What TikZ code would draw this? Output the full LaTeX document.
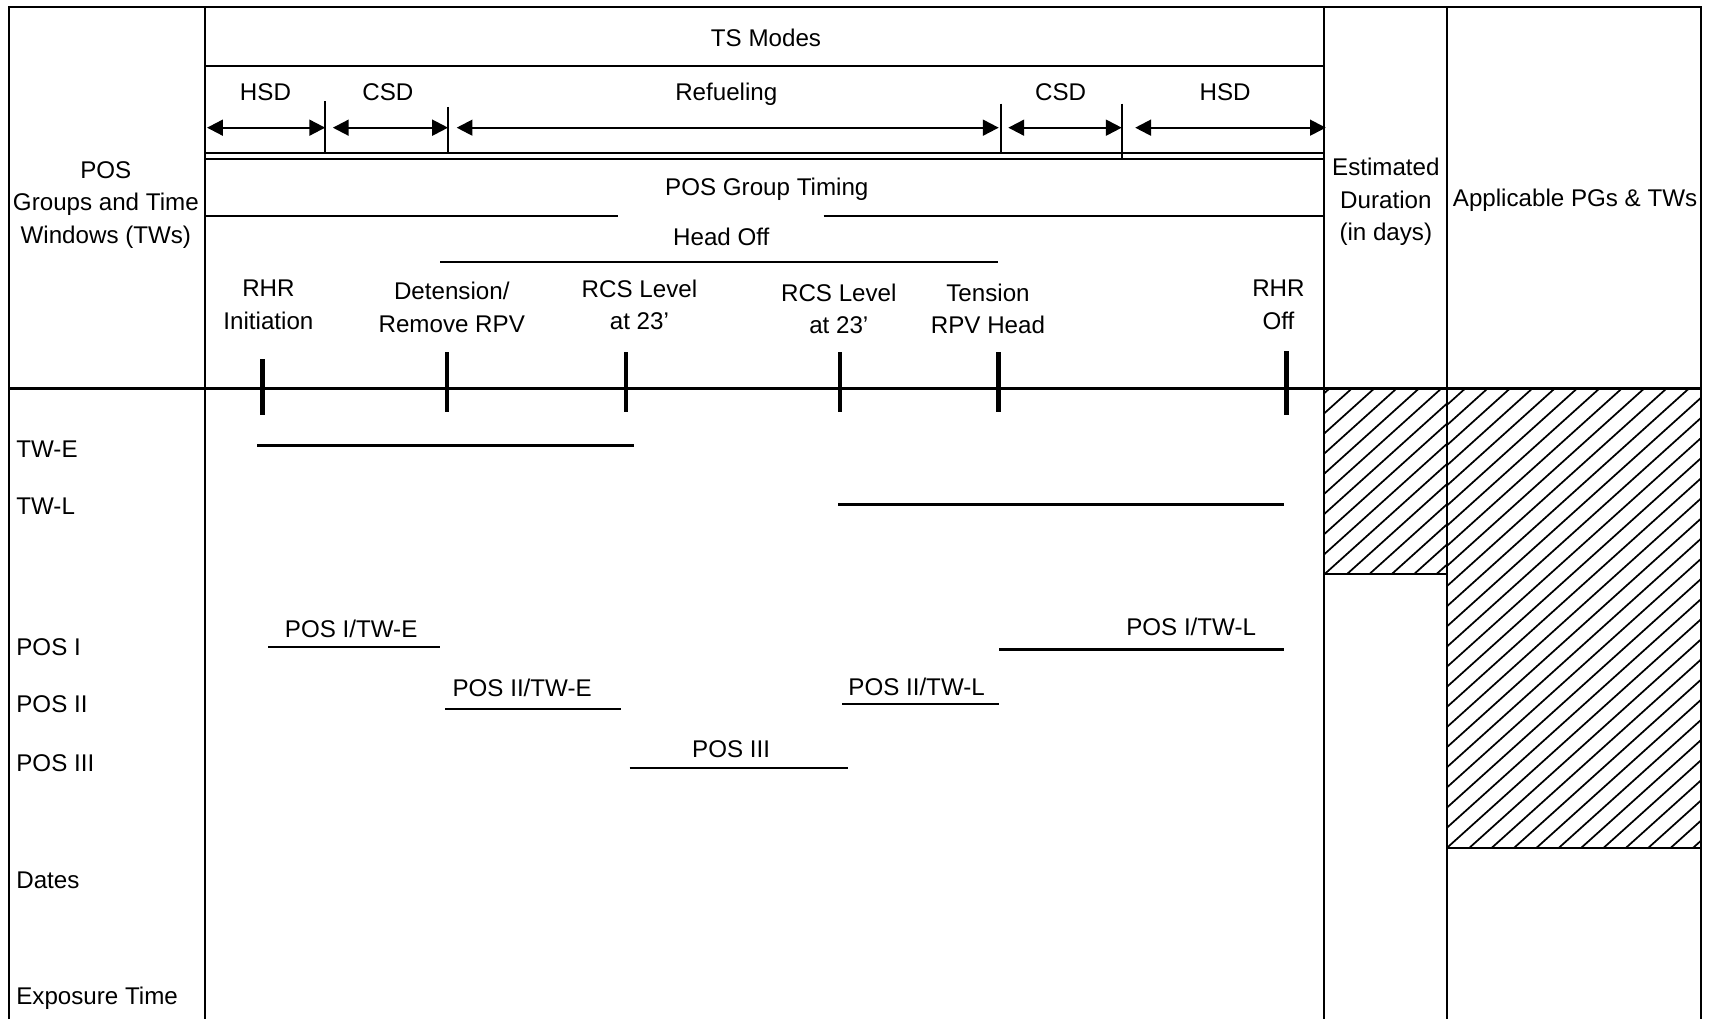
\documentclass[tikz,border=0pt]{standalone}
\usepackage{fontspec}
\setmainfont{Liberation Sans}
\usetikzlibrary{arrows.meta}
\begin{document}
\begin{tikzpicture}[x=0.02cm,y=-0.02cm,
  txt/.style={font=\fontsize{12.6pt}{17pt}\selectfont, inner sep=0pt, outer sep=0pt},
  ctr/.style={txt, anchor=base},
  lft/.style={txt, anchor=base west},
  multi/.style={txt, align=center, anchor=center},
  rule/.style={line width=1.1pt},
  thinrule/.style={line width=0.9pt},
  tickmark/.style={line width=2.2pt},
  bar/.style={line width=1.2pt},
  modearrow/.style={line width=1.1pt, {Triangle[length=0.29cm,width=0.29cm]}-{Triangle[length=0.29cm,width=0.29cm]}},
  hatchline/.style={line width=0.9pt}
]
\useasboundingbox (0,0) rectangle (1568,934);

% ---------- hatched areas ----------
\begin{scope}
  \clip (1214,356) rectangle (1326,526);
  \foreach \k in {-11,...,7} { \draw[hatchline] ({1214+20.5*\k},526) -- ++(400,-360); }
\end{scope}
\begin{scope}
  \clip (1326,356) rectangle (1558,777);
  \foreach \k in {-25,...,13} { \draw[hatchline] ({1326+20.5*\k},777) -- ++(600,-540); }
\end{scope}
\draw[rule] (1214,526) -- (1326,526);
\draw[rule] (1326,777) -- (1558,777);

% ---------- frame ----------
\draw[rule] (8.5,934) -- (8.5,6.5) -- (1558.5,6.5) -- (1558.5,934);
\draw[rule] (188,6.5) -- (188,934);
\draw[rule] (1213.5,6.5) -- (1213.5,934);
\draw[rule] (1326,6.5) -- (1326,934);
\draw[rule] (8.5,356) -- (1558.5,356);
\draw[rule] (188,60.5) -- (1213.5,60.5);
\draw[thinrule] (188,140.5) -- (1213.5,140.5);
\draw[thinrule] (188,145.5) -- (1213.5,145.5);

% ---------- TS modes row ----------
\node[ctr] (tsmodes) at (702,42.8) {TS Modes};
\node[ctr] (hsd1) at (243.3,92.3) {HSD};
\node[ctr] (csd1) at (355.4,92.3) {CSD};
\node[ctr] (refuel) at (665.6,92.3) {Refueling};
\node[ctr] (csd2) at (972,92.3) {CSD};
\node[ctr] (hsd2) at (1122.7,92.3) {HSD};

\coordinate (s0) at (188,117);
\coordinate (s1) at (298,117);
\coordinate (s2) at (410.6,117);
\coordinate (s3) at (917,117);
\coordinate (s4) at (1028,117);
\coordinate (s5) at (1215,117);

\draw[thinrule] (298,93) -- (298,140.5);
\draw[thinrule] (410.6,98) -- (410.6,140.5);
\draw[thinrule] (917,95) -- (917,140.5);
\draw[thinrule] (1028,95) -- (1028,145.5);

\draw[modearrow] ([xshift=1]s0) -- (s1);
\draw[modearrow] ([xshift=4]s1) -- (s2);
\draw[modearrow] ([xshift=4.5]s2) -- ([xshift=-1]s3);
\draw[modearrow] ([xshift=4]s3) -- (s4);
\draw[modearrow] ([xshift=7]s4) -- (s5);

% ---------- POS group timing ----------
\node[ctr] (timing) at (702.7,179.6) {POS Group Timing};
\draw[rule] (188,198) -- (566.7,198);
\draw[rule] (754.8,198) -- (1213.5,198);
\node[ctr] (headoff) at (661,225) {Head Off};
\draw[rule] (403.3,240.4) -- (915,240.4);

\node[multi] (rhrinit) at (246,279.5) {RHR\\Initiation};
\node[multi] (deten) at (414,281.5) {Detension/\\Remove RPV};
\node[multi] (rcs1) at (586,279.2) {RCS Level\\at 23'};
\node[multi] (rcs2) at (768.7,283) {RCS Level\\at 23'};
\node[multi] (tension) at (905.4,283) {Tension\\RPV Head};
\node[multi] (rhroff) at (1171.6,279.5) {RHR\\Off};

% ---------- milestone ticks ----------
\draw[tickmark] (240.5,329) -- (240.5,380);
\draw[tickmark] (409.8,323) -- (409.8,378);
\draw[tickmark] (573.8,323) -- (573.8,378);
\draw[tickmark] (769.5,323) -- (769.5,378);
\draw[tickmark] (915,323) -- (915,378);
\draw[tickmark] (1178.9,322) -- (1178.9,380);

% ---------- headers ----------
\node[multi] (posheader) at (97,187.8) {POS\\Groups and Time\\Windows (TWs)};
\node[multi] (estdur) at (1270,185) {Estimated\\Duration\\(in days)};
\node[ctr] (applic) at (1443.4,189.4) {Applicable PGs \& TWs};

% ---------- row labels ----------
\node[lft] (twe) at (15,419) {TW-E};
\node[lft] (twl) at (15,471.5) {TW-L};
\node[lft] (posi) at (15,601) {POS I};
\node[lft] (posii) at (15,653) {POS II};
\node[lft] (posiii) at (15,707.4) {POS III};
\node[lft] (dates) at (15,814.5) {Dates};
\node[lft] (expo) at (15,920.8) {Exposure Time};

% ---------- bars ----------
\draw[bar] (235.7,408.2) -- (581,408.2);
\draw[bar] (768,462.4) -- (1176.6,462.4);

\node[ctr] (pos1e) at (321.8,584.4) {POS I/TW-E};
\draw[bar] (245.6,592.7) -- (403,592.7);
\node[ctr] (pos2e) at (478.5,638.7) {POS II/TW-E};
\draw[bar] (407.9,650) -- (569,650);
\node[ctr] (pos3) at (670,694) {POS III};
\draw[bar] (577,704) -- (776.8,704);
\node[ctr] (pos2l) at (840,637.2) {POS II/TW-L};
\draw[bar] (772,645) -- (915.5,645);
\node[ctr] (pos1l) at (1091.6,582.6) {POS I/TW-L};
\draw[bar] (915.5,595.2) -- (1176.6,595.2);
\end{tikzpicture}
\end{document}
